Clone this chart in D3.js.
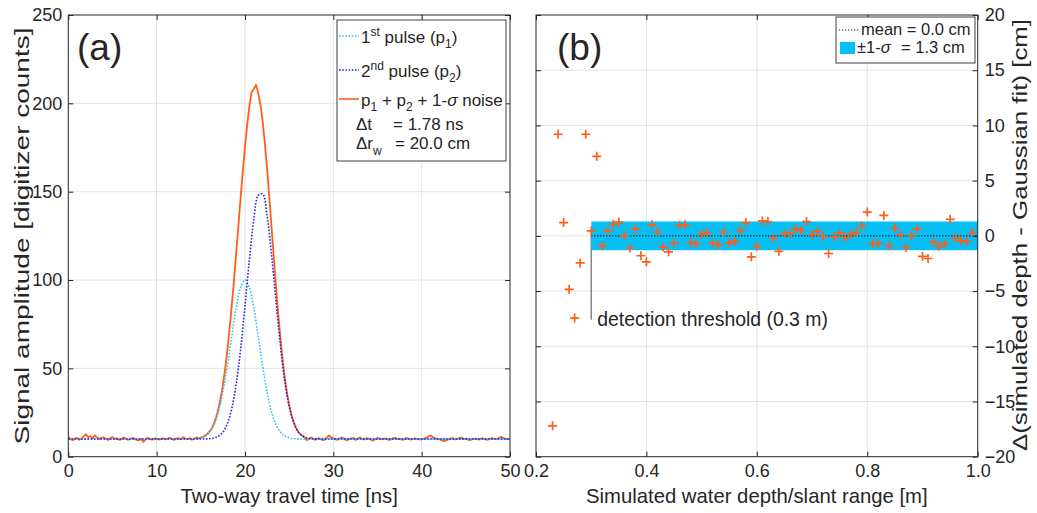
<!DOCTYPE html>
<html><head><meta charset="utf-8">
<script src="https://cdn.jsdelivr.net/npm/d3@7"></script>
<style>
body{margin:0;background:#fff}
svg text{font-family:"Liberation Sans",Arial,sans-serif;fill:#262626}
.tick text{font-size:18px}
</style>
</head><body>
<svg id="c" width="1037" height="513"></svg>
<script>
// ---------- data (panel a) ----------
const timeNs = [0,0.5,1,1.5,2,2.5,3,3.5,4,4.5,5,5.5,6,6.5,7,7.5,8,8.5,9,9.5,
  10,10.5,11,11.5,12,12.5,13,13.5,14,14.5,15,15.5,16,16.5,17,17.5,18,18.5,19,19.5,
  20,20.5,21,21.5,22,22.5,23,23.5,24,24.5,25,25.5,26,26.5,27,27.5,28,28.5,29,29.5,
  30,30.5,31,31.5,32,32.5,33,33.5,34,34.5,35,35.5,36,36.5,37,37.5,38,38.5,39,39.5,
  40,40.5,41,41.5,42,42.5,43,43.5,44,44.5,45,45.5,46,46.5,47,47.5,48,48.5,49,49.5,50];
const pulse1 = [10,10,10,10,10,10,10,10,10,10,10,10,10,10,10,10,10,10,10,10,
  10,10,10,10,10,10,10,10,10.1,10.2,10.7,11.7,14.0,18.2,25.5,36.6,51.2,68.0,84.0,95.7,
  100,95.7,84.0,68.0,51.2,36.6,25.5,18.2,14.0,11.7,10.7,10.2,10.1,10,10,10,10,10,10,10,
  10,10,10,10,10,10,10,10,10,10,10,10,10,10,10,10,10,10,10,10,
  10,10,10,10,10,10,10,10,10,10,10,10,10,10,10,10,10,10,10,10,10];
const pulse2 = [10,10,10,10,10,10,10,10,10,10,10,10,10,10,10,10,10,10,10,10,
  10,10,10,10,10,10,10,10,10,10,10,10,10.2,10.6,11.6,13.9,18.6,27.1,40.9,60.7,
  85.4,111.7,134.3,147.9,148.7,136.5,114.7,88.6,63.5,43.0,28.5,19.4,14.3,11.8,10.7,10.2,10.1,10,10,10,
  10,10,10,10,10,10,10,10,10,10,10,10,10,10,10,10,10,10,10,10,
  10,10,10,10,10,10,10,10,10,10,10,10,10,10,10,10,10,10,10,10,10];
const timeFineNs = [0,0.25,0.5,0.75,1,1.25,1.5,1.75,2,2.25,2.5,2.75,3,3.25,3.5,3.75,4,4.25,4.5,4.75,
  5,5.25,5.5,5.75,6,6.25,6.5,6.75,7,7.25,7.5,7.75,8,8.25,8.5,8.75,9,9.25,9.5,9.75,
  10,10.25,10.5,10.75,11,11.25,11.5,11.75,12,12.25,12.5,12.75,13,13.25,13.5,13.75,14,14.25,14.5,14.75,
  15,15.25,15.5,15.75,16,16.25,16.5,16.75,17,17.25,17.5,17.75,18,18.25,18.5,18.75,19,19.25,19.5,19.75,
  20,20.25,20.5,20.75,21,21.25,21.5,21.75,22,22.25,22.5,22.75,23,23.25,23.5,23.75,24,24.25,24.5,24.75,
  25,25.25,25.5,25.75,26,26.25,26.5,26.75,27,27.25,27.5,27.75,28,28.25,28.5,28.75,29,29.25,29.5,29.75,
  30,30.25,30.5,30.75,31,31.25,31.5,31.75,32,32.25,32.5,32.75,33,33.25,33.5,33.75,34,34.25,34.5,34.75,
  35,35.25,35.5,35.75,36,36.25,36.5,36.75,37,37.25,37.5,37.75,38,38.25,38.5,38.75,39,39.25,39.5,39.75,
  40,40.25,40.5,40.75,41,41.25,41.5,41.75,42,42.25,42.5,42.75,43,43.25,43.5,43.75,44,44.25,44.5,44.75,
  45,45.25,45.5,45.75,46,46.25,46.5,46.75,47,47.25,47.5,47.75,48,48.25,48.5,48.75,49,49.25,49.5,49.75,50];
const combined = [11.2,10.0,9.3,10.4, 10.6,9.6,10.1,11.6, 12.8,11.0,11.6,10.5, 12.1,10.9,10.0,10.7, 10.9,10.2,9.4,10.5,
  11.1,10.1,10.4,9.6, 9.8,10.9,10.3,9.5, 10.0,10.6,10.2,9.4, 9.3,10.1,8.4,9.8, 10.7,9.9,9.6,10.3,
  10.2,9.7,10.1,10.4, 9.8,10.2,10.7,9.9, 9.5,10.3,10.4,9.8, 11.0,10.3,9.9,10.5, 9.6,10.2,10.9,10.4,
  10.8,11.3,12.0,12.9, 14.4,16.0,18.9,22.6, 27.3,33.2,40.6,49.6, 59.9,72.0,85.2,99.4, 115,130.5,146.2,161.3,
  175.2,187.8,198.6,206.5, 208,210.5,206,199.2, 190,177.4,163,147.2, 130.4,113.5,96.9,81.6, 67.8,55.4,44.9,36.3,
  29.3,23.9,19.9,16.6, 14.3,12.6,11.9,10.8, 9.3,10.2,10.9,9.9, 9.6,10.5,10.2,9.4, 9.5,10.8,12.0,10.9,
  10.5,9.8,9.6,10.4, 10.9,10.1,9.2,9.9, 10.3,10.7,9.5,10.1, 10.9,10.2,9.7,10.5, 10.2,9.6,9.1,10.0,
  10.6,10.2,9.8,10.4, 10.1,9.5,9.7,10.5, 10.7,10.0,10.2,9.6, 9.8,10.6,10.3,9.7, 10.0,10.4,10.1,9.8,
  9.7,10.3,10.6,11.4, 12.1,11.0,10.5,10.1, 9.9,9.4,8.7,9.3, 9.7,10.2,10.5,9.8, 10.0,10.6,10.8,10.1,
  10.2,9.7,9.4,10.0, 10.3,9.9,9.7,10.4, 10.3,9.8,9.6,10.2, 10.5,10.1,10.0,10.6, 11.3,10.6,10.1,9.9, 10.3];
const ticksAx = [0,10,20,30,40,50];
const ticksAy = [0,50,100,150,200,250];

// ---------- data (panel b) ----------
const depthM = [0.23,0.24,0.25,0.26,0.27,0.28,0.29,0.30,0.31,0.32,0.33,0.34,0.35,0.36,0.37,0.38,0.39,
  0.40,0.41,0.42,0.43,0.44,0.45,0.46,0.47,0.48,0.49,0.50,0.51,0.52,0.53,0.54,0.55,0.56,0.57,0.58,0.59,
  0.60,0.61,0.62,0.63,0.64,0.65,0.66,0.67,0.68,0.69,0.70,0.71,0.72,0.73,0.74,0.75,0.76,0.77,0.78,0.79,
  0.80,0.81,0.82,0.83,0.84,0.85,0.86,0.87,0.88,0.89,0.90,0.91,0.92,0.93,0.94,0.95,0.96,0.97,0.98,0.99];
const residualCm = [-17.2,9.2,1.2,-4.85,-7.45,-2.45,9.2,0.45,7.2,-0.9,0.45,1.05,1.25,0.0,-1.1,0.6,-1.8,
  -2.35,1.0,0.35,-1.0,-1.45,-0.65,0.95,1.0,-0.6,-0.7,0.15,0.3,-0.65,-0.8,0.35,-0.65,-0.5,0.5,1.2,-1.9,
  -0.95,1.35,1.3,-0.2,-1.4,0.2,0.2,0.65,0.5,1.3,0.1,0.4,-0.05,-1.6,-0.1,0.25,-0.2,0.15,0.3,0.9,
  2.15,-0.7,-0.7,1.85,-0.9,0.7,0.1,-1.05,0.0,0.6,-1.85,-2.05,-0.55,-0.95,-0.7,1.5,-0.2,-0.45,-0.5,0.3];
const ticksBx = [0.2,0.4,0.6,0.8,1.0];
const ticksBy = [-20,-15,-10,-5,0,5,10,15,20];
const meanCm = 0.0, sigmaCm = 1.3, thresholdM = 0.3, thresholdLabelY = -7.6;

// ---------- drawing ----------
const svg = d3.select('#c');
const INK = '#262626', GRID = '#e2e2e2';
const C_ORANGE = '#ff5e1a', C_CYAN = '#2ec4f0', C_BLUE = '#2323e6', C_BAND = '#05bff5';
const A = {l:68.3, r:510, t:15, b:456.7};
const B = {l:536, r:977.7, t:15, b:456.7};

const xA = d3.scaleLinear().domain([0,50]).range([A.l,A.r]);
const yA = d3.scaleLinear().domain([0,250]).range([A.b,A.t]);
const xB = d3.scaleLinear().domain([0.2,1.0]).range([B.l,B.r]);
const yB = d3.scaleLinear().domain([-20,20]).range([B.b,B.t]);

function grid(P, x, y, xt, yt){
  const g = svg.append('g');
  g.selectAll('.gx').data(xt.slice(1,-1)).join('line')
    .attr('x1',d=>x(d)).attr('x2',d=>x(d)).attr('y1',P.t).attr('y2',P.b)
    .attr('stroke',GRID).attr('stroke-width',1);
  g.selectAll('.gy').data(yt.slice(1,-1)).join('line')
    .attr('y1',d=>y(d)).attr('y2',d=>y(d)).attr('x1',P.l).attr('x2',P.r)
    .attr('stroke',GRID).attr('stroke-width',1);
}
function axes(P, x, y, xt, yt, xfmt, labelRight){
  const none = () => '';
  const mk = (axis, tr) => {
    const g = svg.append('g').attr('transform',tr).style('color',INK).call(axis);
    g.attr('font-size',null).attr('font-family',null);
    g.select('.domain').remove();
    return g;
  };
  mk(d3.axisBottom(x).tickValues(xt).tickSize(-5).tickPadding(8).tickFormat(xfmt), `translate(0,${P.b})`);
  mk(d3.axisTop(x).tickValues(xt).tickSize(-5).tickFormat(none), `translate(0,${P.t})`);
  mk(d3.axisLeft(y).tickValues(yt).tickSize(-5).tickPadding(6).tickFormat(labelRight?none:d3.format('d')), `translate(${P.l},0)`);
  mk(d3.axisRight(y).tickValues(yt).tickSize(-5).tickPadding(7).tickFormat(labelRight?d3.format('d'):none), `translate(${P.r},0)`);
  svg.append('rect').attr('x',P.l).attr('y',P.t).attr('width',P.r-P.l).attr('height',P.b-P.t)
    .attr('fill','none').attr('stroke',INK).attr('stroke-width',1);
}

// Panel (a)
grid(A, xA, yA, ticksAx, ticksAy);
const lineFine = d3.line().x((d,i)=>xA(timeFineNs[i])).y(d=>yA(d));
const lineSmooth = d3.line().curve(d3.curveCatmullRom).x((d,i)=>xA(timeNs[i])).y(d=>yA(d));
svg.append('path').attr('d',lineFine(combined)).attr('fill','none').attr('stroke',C_ORANGE).attr('stroke-width',1.8).attr('stroke-linejoin','round');
svg.append('path').attr('d',lineSmooth(pulse1)).attr('fill','none').attr('stroke',C_CYAN).attr('stroke-width',1.6).attr('stroke-dasharray','1.6,1.6');
svg.append('path').attr('d',lineSmooth(pulse2)).attr('fill','none').attr('stroke',C_BLUE).attr('stroke-width',1.6).attr('stroke-dasharray','1.6,1.6');
axes(A, xA, yA, ticksAx, ticksAy, d3.format('d'), false);

// Panel (b)
grid(B, xB, yB, ticksBx, ticksBy);
svg.append('line').attr('x1',xB(thresholdM)).attr('x2',xB(thresholdM))
  .attr('y1',yB(meanCm)).attr('y2',yB(thresholdLabelY)).attr('stroke','#6b6b6b').attr('stroke-width',1.2);
svg.append('rect').attr('x',xB(thresholdM)).attr('width',xB(1.0)-xB(thresholdM))
  .attr('y',yB(meanCm+sigmaCm)).attr('height',yB(meanCm-sigmaCm)-yB(meanCm+sigmaCm)).attr('fill',C_BAND);
svg.append('line').attr('x1',xB(thresholdM)).attr('x2',xB(1.0)).attr('y1',yB(meanCm)).attr('y2',yB(meanCm))
  .attr('stroke','#111').attr('stroke-width',1.2).attr('stroke-dasharray','1.2,1.8');
svg.append('g').selectAll('path').data(depthM).join('path')
  .attr('transform',(d,i)=>`translate(${xB(d)},${yB(residualCm[i])})`)
  .attr('d','M-4.5,0H4.5M0,-4.5V4.5').attr('stroke',C_ORANGE).attr('stroke-width',1.7);
svg.append('text').attr('x',xB(thresholdM)+6).attr('y',yB(thresholdLabelY)+6).attr('font-size',19.4)
  .text('detection threshold (0.3 m)');
axes(B, xB, yB, ticksBx, ticksBy, d3.format('.1f'), true);

// Panel labels
svg.append('text').attr('x',77).attr('y',60).attr('font-size',37).text('(a)');
svg.append('text').attr('x',557).attr('y',60).attr('font-size',37).text('(b)');

// Axis titles
svg.append('text').attr('x',(A.l+A.r)/2).attr('y',503).attr('text-anchor','middle').attr('font-size',20.3).text('Two-way travel time [ns]');
svg.append('text').attr('x',(B.l+B.r)/2).attr('y',503).attr('text-anchor','middle').attr('font-size',20.3).text('Simulated water depth/slant range [m]');
svg.append('text').attr('transform',`translate(29,236) rotate(-90)`).attr('text-anchor','middle').attr('font-size',21)
  .attr('textLength',417).attr('lengthAdjust','spacingAndGlyphs')
  .text('Signal amplitude [digitizer counts]');
svg.append('text').attr('transform',`translate(1027,235) rotate(-90)`).attr('text-anchor','middle').attr('font-size',21)
  .attr('textLength',432).attr('lengthAdjust','spacingAndGlyphs')
  .text('Δ(simulated depth - Gaussian fit) [cm]');

// Legend (a)
const LA = svg.append('g');
LA.append('rect').attr('x',337).attr('y',20).attr('width',169).attr('height',141).attr('fill','#fff').attr('stroke','#404040').attr('stroke-width',1);
const legA = [
  {y:36, color:C_CYAN, dash:'1.6,1.6', parts:[['1',0,17],['st',-7,12],[' pulse (p',7,17],['1',5,12],[')',-5,17]]},
  {y:70, color:C_BLUE, dash:'1.6,1.6', parts:[['2',0,17],['nd',-7,12],[' pulse (p',7,17],['2',5,12],[')',-5,17]]},
  {y:99, color:C_ORANGE, dash:null, parts:[['p',0,17],['1',5,12],[' + p',-5,17],['2',5,12],[' + 1-',-5,17],['σ',0,17,'italic'],[' noise',0,17]]}
];
legA.forEach(r=>{
  LA.append('line').attr('x1',339).attr('x2',359).attr('y1',r.y).attr('y2',r.y).attr('stroke',r.color)
    .attr('stroke-width',1.6).attr('stroke-dasharray',r.dash);
  const t = LA.append('text').attr('x',361).attr('y',r.y+7).attr('font-size',17);
  r.parts.forEach(p=>{const s=t.append('tspan').attr('dy',p[1]).attr('font-size',p[2]).text(p[0]); if(p[3]) s.attr('font-style',p[3]);});
});
LA.append('text').attr('x',356).attr('y',130).attr('font-size',17).text('Δt');
LA.append('text').attr('x',393).attr('y',130).attr('font-size',17).text('= 1.78 ns');
const rw = LA.append('text').attr('x',356).attr('y',149).attr('font-size',17);
rw.append('tspan').text('Δr'); rw.append('tspan').attr('dy',6).attr('font-size',12).text('w');
LA.append('text').attr('x',395).attr('y',149).attr('font-size',17).text('= 20.0 cm');

// Legend (b)
const LB = svg.append('g');
LB.append('rect').attr('x',836).attr('y',17).attr('width',139).attr('height',46).attr('fill','#fff').attr('stroke','#404040').attr('stroke-width',1);
LB.append('line').attr('x1',839).attr('x2',860).attr('y1',30).attr('y2',30).attr('stroke','#111').attr('stroke-width',1.2).attr('stroke-dasharray','1.2,1.8');
LB.append('text').attr('x',861).attr('y',35).attr('font-size',16.5).text('mean = 0.0 cm');
LB.append('rect').attr('x',840).attr('y',42).attr('width',15).attr('height',12).attr('fill',C_BAND);
const sg = LB.append('text').attr('x',857).attr('y',53).attr('font-size',16.5);
sg.append('tspan').text('±1-'); sg.append('tspan').attr('font-style','italic').text('σ');
LB.append('text').attr('x',901).attr('y',53).attr('font-size',16.5).text('= 1.3 cm');
</script>
</body></html>
